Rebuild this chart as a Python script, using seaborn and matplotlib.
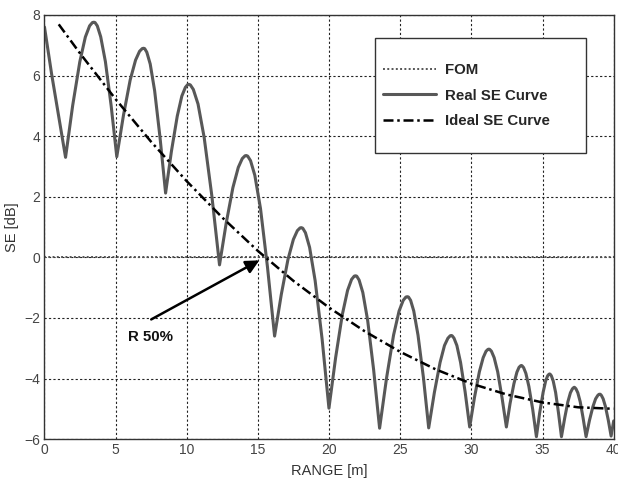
import numpy as np
import pandas as pd
import matplotlib
matplotlib.use('Agg')
import matplotlib.pyplot as plt
import seaborn as sns
from matplotlib.patches import Rectangle

# Real SE curve (lobes between cusps)
real_x = [0.00, 0.50, 1.48,
          1.98, 2.48, 2.87, 3.17, 3.37, 3.47, 3.55, 3.71, 3.95, 4.28, 4.68, 5.08,
          5.55, 6.02, 6.40, 6.68, 6.87, 6.96, 7.04, 7.19, 7.43, 7.74, 8.12, 8.51,
          8.92, 9.33, 9.65, 9.90, 10.06, 10.14, 10.25, 10.46, 10.79, 11.22, 11.76, 12.30,
          12.77, 13.24, 13.62, 13.90, 14.09, 14.18, 14.28, 14.48, 14.78, 15.18, 15.67, 16.17,
          16.64, 17.11, 17.49, 17.77, 17.96, 18.05, 18.15, 18.34, 18.63, 19.02, 19.51, 19.99,
          20.46, 20.93, 21.30, 21.58, 21.77, 21.86, 21.94, 22.11, 22.37, 22.71, 23.13, 23.55,
          24.04, 24.53, 24.92, 25.21, 25.40, 25.50, 25.58, 25.73, 25.95, 26.25, 26.63, 27.00,
          27.40, 27.80, 28.11, 28.35, 28.51, 28.59, 28.65, 28.78, 28.98, 29.24, 29.56, 29.88,
          30.22, 30.56, 30.83, 31.03, 31.16, 31.23, 31.29, 31.41, 31.60, 31.85, 32.15, 32.46,
          32.72, 32.99, 33.20, 33.35, 33.46, 33.51, 33.56, 33.67, 33.83, 34.04, 34.31, 34.57,
          34.80, 35.04, 35.22, 35.36, 35.45, 35.50, 35.54, 35.62, 35.75, 35.92, 36.12, 36.33,
          36.56, 36.78, 36.96, 37.10, 37.19, 37.23, 37.27, 37.35, 37.48, 37.65, 37.85, 38.06,
          38.30, 38.54, 38.73, 38.88, 38.97, 39.02, 39.06, 39.14, 39.26, 39.42, 39.62, 39.82,
          40.00]
real_y = [7.60, 6.05, 3.30,
          5.01, 6.45, 7.27, 7.64, 7.75, 7.76, 7.75, 7.64, 7.28, 6.46, 5.02, 3.32,
          4.69, 5.85, 6.51, 6.80, 6.89, 6.90, 6.89, 6.77, 6.38, 5.50, 3.95, 2.12,
          3.50, 4.66, 5.32, 5.61, 5.70, 5.71, 5.69, 5.54, 5.06, 3.96, 2.03, -0.25,
          1.13, 2.30, 2.97, 3.26, 3.35, 3.36, 3.34, 3.19, 2.71, 1.61, -0.32, -2.60,
          -1.23, -0.07, 0.59, 0.88, 0.97, 0.98, 0.96, 0.81, 0.33, -0.77, -2.70, -4.98,
          -3.31, -1.89, -1.09, -0.73, -0.62, -0.61, -0.62, -0.75, -1.16, -2.08, -3.71, -5.64,
          -3.98, -2.57, -1.77, -1.42, -1.31, -1.30, -1.31, -1.42, -1.77, -2.57, -3.97, -5.63,
          -4.46, -3.47, -2.91, -2.67, -2.59, -2.58, -2.59, -2.67, -2.91, -3.47, -4.44, -5.60,
          -4.62, -3.78, -3.31, -3.10, -3.04, -3.03, -3.04, -3.10, -3.31, -3.78, -4.62, -5.60,
          -4.82, -4.17, -3.79, -3.63, -3.58, -3.57, -3.58, -3.64, -3.83, -4.26, -5.02, -5.92,
          -5.13, -4.46, -4.08, -3.91, -3.86, -3.85, -3.86, -3.91, -4.08, -4.46, -5.13, -5.92,
          -5.30, -4.77, -4.47, -4.34, -4.30, -4.29, -4.30, -4.34, -4.47, -4.77, -5.30, -5.92,
          -5.38, -4.93, -4.67, -4.56, -4.52, -4.52, -4.52, -4.56, -4.67, -4.92, -5.37, -5.90,
          -5.40]

# Ideal SE curve
ideal_x = [1.0, 2.5, 5.0, 7.5, 10.0, 12.5, 15.0, 17.5, 20.0,
           22.5, 25.0, 27.5, 30.0, 32.5, 35.0, 37.5, 40.0]
ideal_y = [7.69, 6.73, 5.22, 3.81, 2.51, 1.31, 0.21, -0.78, -1.66,
           -2.44, -3.12, -3.70, -4.17, -4.53, -4.79, -4.95, -5.00]

# FOM line
fom_x = [0, 40]
fom_y = [0, 0]

x_ticks = [0, 5, 10, 15, 20, 25, 30, 35, 40]
y_ticks = [-6, -4, -2, 0, 2, 4, 6, 8]

sns.set_style('white')
plt.rcParams['font.family'] = ['Liberation Sans', 'DejaVu Sans']

fig = plt.figure(figsize=(6.18, 4.82), dpi=100)
ax = fig.add_axes([0.072, 0.089, 0.921, 0.880])

sns.lineplot(x=fom_x, y=fom_y, ax=ax, color='#555555', lw=1.4,
             linestyle=(0, (1, 1.2)), label='FOM', estimator=None, sort=False)
sns.lineplot(x=real_x, y=real_y, ax=ax, color='#585858', lw=2.2,
             solid_joinstyle='round', label='Real SE Curve',
             estimator=None, sort=False)
sns.lineplot(x=ideal_x, y=ideal_y, ax=ax, color='black', lw=1.8,
             linestyle=(0, (4, 1.5, 1, 1.5)), label='Ideal SE Curve',
             estimator=None, sort=False)

ax.set_xlim(0, 40)
ax.set_ylim(-6, 8)
ax.set_xticks(x_ticks)
ax.set_yticks(y_ticks)
ax.grid(True, color='#222222', linestyle=(0, (2, 2)), lw=0.8)
for s in ax.spines.values():
    s.set_color('#333333')
    s.set_linewidth(1.0)
ax.tick_params(direction='in', length=3, width=0.8, colors='#333333',
               labelsize=10, pad=3, labelcolor='#444444')
ax.set_xlabel('RANGE [m]', fontsize=10.5, color='#333333', labelpad=5)
ax.set_ylabel('SE [dB]', fontsize=10.5, color='#333333', labelpad=4)

# arrow marking R 50%
ax.annotate('', xy=(15.1, -0.1), xytext=(7.5, -2.05),
            arrowprops=dict(arrowstyle='-|>', color='black', lw=1.8,
                            mutation_scale=20, shrinkA=0, shrinkB=0))
ax.text(7.45, -2.62, 'R 50%', ha='center', va='center', fontsize=10.8,
        fontweight='bold', color='#111111')

# legend box (MATLAB style, wide with empty padding)
ax.add_patch(Rectangle((0.581, 0.675), 0.371, 0.270, transform=ax.transAxes,
                       facecolor='white', edgecolor='#333333', lw=1.0, zorder=5))
leg = ax.legend(loc='upper left', bbox_to_anchor=(0.595, 0.886), frameon=False,
                prop={'weight': 'bold', 'size': 10.8}, handlelength=3.5,
                handletextpad=0.6, labelspacing=0.75, borderpad=0, borderaxespad=0)
leg.set_zorder(6)

fig.savefig('out.png', dpi=100)
